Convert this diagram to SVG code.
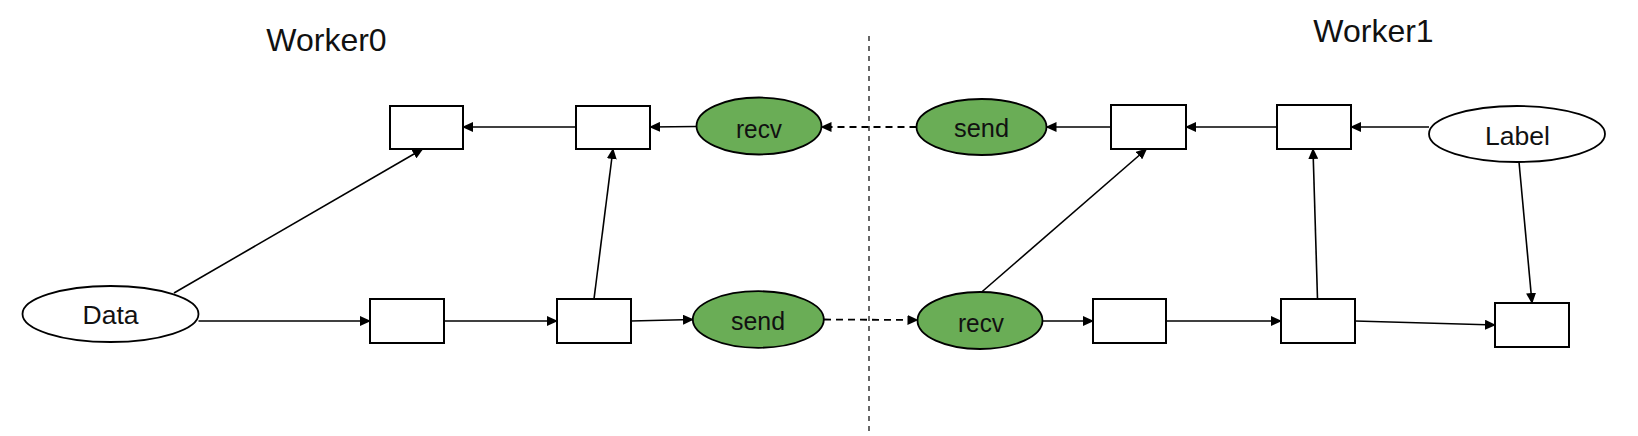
<svg xmlns="http://www.w3.org/2000/svg" width="1638" height="436" viewBox="0 0 1638 436">
<style>
.box{fill:#fff;stroke:#000;stroke-width:2}
.plain{fill:#fff;stroke:#000;stroke-width:1.8}
.green{fill:#6aad56;stroke:#000;stroke-width:1.8}
.lbl{font-family:"Liberation Sans",Arial,sans-serif;font-size:25px;fill:#111;text-anchor:middle}
.title{font-family:"Liberation Sans",Arial,sans-serif;font-size:32px;fill:#111;text-anchor:middle}
.edge{stroke:#000;stroke-width:1.6;fill:none;marker-end:url(#ah)}
.dash{stroke:#000;stroke-width:1.8;fill:none;stroke-dasharray:7 5;marker-end:url(#ah)}
</style>
<defs>
<marker id="ah" markerUnits="userSpaceOnUse" markerWidth="11" markerHeight="10" refX="10" refY="5" orient="auto">
<path d="M0,0 L11,5 L0,10 Z" fill="#000"/>
</marker>
</defs>
<rect width="1638" height="436" fill="#fff"/>
<line x1="869" y1="36" x2="869" y2="436" stroke="#000" stroke-width="1.2" stroke-dasharray="5 5"/>
<text class="title" x="326.5" y="51">Worker0</text>
<text class="title" x="1373.5" y="42">Worker1</text>
<g id="connectors">
<line class="edge" x1="576" y1="127" x2="463" y2="127"/>
<line class="edge" x1="696.5" y1="126.5" x2="650" y2="127"/>
<line class="dash" x1="916.5" y1="127" x2="821.5" y2="127"/>
<line class="edge" x1="1111" y1="127" x2="1046.5" y2="127"/>
<line class="edge" x1="1277" y1="127" x2="1186" y2="127"/>
<line class="edge" x1="1429" y1="127" x2="1351" y2="127"/>
<line class="edge" x1="174" y1="293" x2="422.6" y2="149"/>
<line class="edge" x1="594" y1="299" x2="613" y2="149"/>
<line class="edge" x1="198.5" y1="321" x2="370" y2="321"/>
<line class="edge" x1="444" y1="321" x2="557" y2="321"/>
<line class="edge" x1="631" y1="321" x2="693" y2="319.5"/>
<line class="dash" x1="824" y1="319.5" x2="917.5" y2="320"/>
<line class="edge" x1="1042.5" y1="321" x2="1093" y2="321"/>
<line class="edge" x1="1166" y1="321" x2="1281" y2="321"/>
<line class="edge" x1="1355" y1="321" x2="1495" y2="325"/>
<line class="edge" x1="981.7" y1="292" x2="1146.5" y2="149"/>
<line class="edge" x1="1317.5" y1="299" x2="1313" y2="149"/>
<line class="edge" x1="1519" y1="162" x2="1532" y2="303"/>
</g>
<g id="r1"><rect class="box" x="390" y="106" width="73" height="43"/></g>
<g id="r2"><rect class="box" x="576" y="106" width="74" height="43"/></g>
<g id="recv0"><ellipse class="green" cx="759" cy="126" rx="62.5" ry="28.5"/><text class="lbl" x="759" y="138" textLength="46" lengthAdjust="spacingAndGlyphs">recv</text></g>
<g id="send1"><ellipse class="green" cx="981.5" cy="127" rx="65" ry="28"/><text class="lbl" x="981.5" y="137" textLength="55" lengthAdjust="spacingAndGlyphs">send</text></g>
<g id="r3"><rect class="box" x="1111" y="105" width="75" height="44"/></g>
<g id="r4"><rect class="box" x="1277" y="105" width="74" height="44"/></g>
<g id="label"><ellipse class="plain" cx="1517" cy="134" rx="88" ry="28"/><text class="lbl" x="1517.5" y="145" textLength="65" lengthAdjust="spacingAndGlyphs">Label</text></g>
<g id="data"><ellipse class="plain" cx="110.5" cy="314" rx="88" ry="28"/><text class="lbl" x="110.5" y="324" textLength="56" lengthAdjust="spacingAndGlyphs">Data</text></g>
<g id="r5"><rect class="box" x="370" y="299" width="74" height="44"/></g>
<g id="r6"><rect class="box" x="557" y="299" width="74" height="44"/></g>
<g id="send0"><ellipse class="green" cx="758.3" cy="319.5" rx="65.5" ry="28.3"/><text class="lbl" x="758" y="330" textLength="54" lengthAdjust="spacingAndGlyphs">send</text></g>
<g id="recv1"><ellipse class="green" cx="980" cy="320.5" rx="62.5" ry="28.5"/><text class="lbl" x="981" y="331.5" textLength="46" lengthAdjust="spacingAndGlyphs">recv</text></g>
<g id="r7"><rect class="box" x="1093" y="299" width="73" height="44"/></g>
<g id="r8"><rect class="box" x="1281" y="299" width="74" height="44"/></g>
<g id="r9"><rect class="box" x="1495" y="303" width="74" height="44"/></g>
</svg>
